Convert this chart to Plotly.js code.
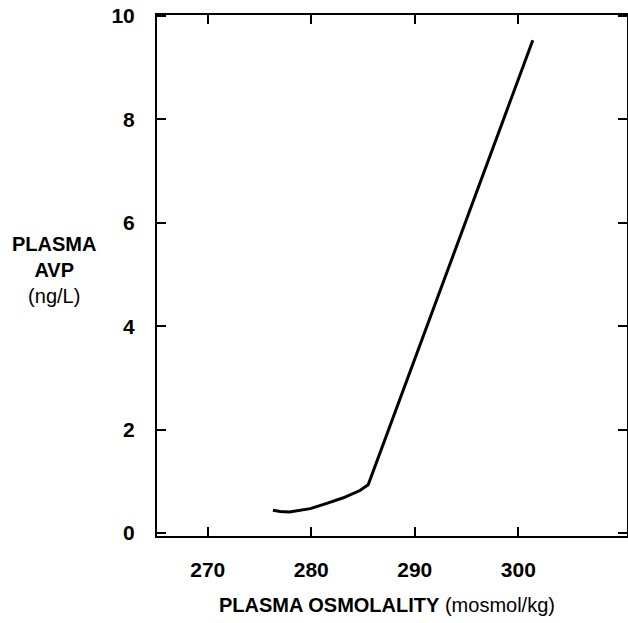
<!DOCTYPE html>
<html>
<head>
<meta charset="utf-8">
<script src="https://cdn.plot.ly/plotly-3.0.1.min.js"></script>
<style>html,body{margin:0;padding:0;background:#fff;}</style>
</head>
<body>
<div id="chart" style="width:628px;height:623px;"></div>
<script>
// Data
const osmolality = [276.3, 277.0, 277.9, 279.9, 281.5, 283.1, 284.7, 285.5, 301.4];
const plasmaAVP  = [0.44, 0.415, 0.405, 0.47, 0.57, 0.68, 0.82, 0.93, 9.53];
const xTicks = [270, 280, 290, 300];
const yTicks = [0, 2, 4, 6, 8, 10];

const titleFamily = '"Liberation Sans", Arial, sans-serif';
const tickFont = {family: titleFamily, size: 21, color: '#000', weight: 'bold'};

const trace = {
  x: osmolality, y: plasmaAVP, type: 'scatter', mode: 'lines',
  line: {color: '#000', width: 3}, hoverinfo: 'skip', showlegend: false
};

const layout = {
  width: 628, height: 623,
  margin: {l: 157, r: 1, t: 15, b: 87},
  paper_bgcolor: '#fff', plot_bgcolor: '#fff',
  xaxis: {
    range: [265.1, 310.5], tickvals: xTicks, ticktext: xTicks.map(String),
    ticks: 'inside', ticklen: 9, tickwidth: 2, tickcolor: '#000',
    showline: true, linewidth: 2, linecolor: '#000', mirror: 'ticks',
    showgrid: false, zeroline: false, tickfont: tickFont, ticklabelstandoff: 14
  },
  yaxis: {
    range: [-0.06, 10.02], tickvals: yTicks, ticktext: yTicks.map(String),
    ticks: 'inside', ticklen: 9, tickwidth: 2, tickcolor: '#000',
    showline: true, linewidth: 2, linecolor: '#000', mirror: 'ticks',
    showgrid: false, zeroline: false, tickfont: tickFont, ticklabelstandoff: 16
  },
  annotations: [
    {
      xref: 'paper', yref: 'paper', x: 0.489, y: 0, yanchor: 'middle', xanchor: 'center',
      yshift: -69, showarrow: false,
      text: '<b>PLASMA OSMOLALITY</b> (mosmol/kg)',
      font: {family: titleFamily, size: 20, color: '#000'}
    },
    {
      xref: 'paper', yref: 'paper', x: -0.219, y: 0.51, xanchor: 'center', yanchor: 'middle',
      showarrow: false, align: 'center',
      text: '<b>PLASMA</b><br><b>AVP</b><br>(ng/L)',
      font: {family: titleFamily, size: 20, color: '#000'}
    }
  ]
};

Plotly.newPlot('chart', [trace], layout, {displayModeBar: false, staticPlot: true});
</script>
</body>
</html>
